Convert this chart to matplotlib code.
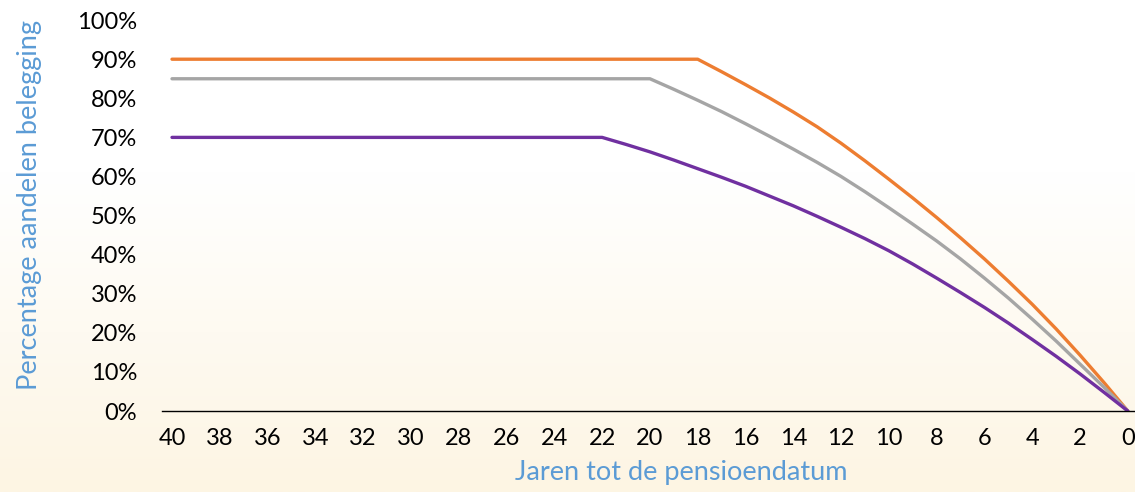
import numpy as np
import matplotlib
matplotlib.use("Agg")
import matplotlib.pyplot as plt
from matplotlib.colors import LinearSegmentedColormap

# years to retirement date (x) and share of equities in % (y)
years_orange = [40, 18, 17, 16, 15, 14, 13, 12, 11, 10, 9, 8, 7, 6, 5, 4, 3, 2, 1, 0]
pct_orange = [90, 90, 86.8, 83.5, 80.1, 76.5, 72.7, 68.5, 64.0, 59.3, 54.5,
              49.5, 44.3, 38.9, 33.2, 27.3, 21.0, 14.3, 7.3, 0]

years_gray = [40, 20, 19, 18, 17, 16, 15, 14, 13, 12, 11, 10, 9, 8, 7, 6, 5, 4, 3, 2, 1, 0]
pct_gray = [85, 85, 82.3, 79.5, 76.6, 73.5, 70.3, 67, 63.6, 60, 56.1, 52,
            47.8, 43.5, 38.9, 34, 28.9, 23.5, 17.9, 12, 6.1, 0]

years_purple = [40, 22, 21, 20, 19, 18, 17, 16, 15, 14, 13, 12, 11, 10, 9, 8, 7, 6, 5, 4, 3, 2, 1, 0]
pct_purple = [70, 70, 68.2, 66.3, 64.2, 62, 59.8, 57.5, 55, 52.5, 49.8, 47,
              44.1, 41, 37.6, 34, 30.3, 26.5, 22.5, 18.3, 14, 9.5, 4.8, 0]

x_ticks = list(range(40, -1, -2))
y_ticks = list(range(0, 101, 10))

plt.rcParams['font.family'] = ['Lato', 'DejaVu Sans']

fig = plt.figure(figsize=(11.35, 4.92), dpi=100)

# background: white at top fading to pale cream at the bottom
bg = fig.add_axes([0, 0, 1, 1], zorder=-1)
grad = np.linspace(0, 1, 256).reshape(-1, 1)
cmap = LinearSegmentedColormap.from_list(
    "bg", [(0, "#ffffff"), (0.35, "#ffffff"), (1, "#fdf5e3")])
bg.imshow(grad, aspect='auto', cmap=cmap, extent=[0, 1, 1, 0])
bg.axis('off')

ax = fig.add_axes([0.1427, 0.1646, 0.8573, 0.7945])
ax.set_facecolor('none')

ax.plot(years_orange, pct_orange, color='#ED7D31', lw=2.4, solid_capstyle='round')
ax.plot(years_gray, pct_gray, color='#A5A5A5', lw=2.4, solid_capstyle='round')
ax.plot(years_purple, pct_purple, color='#7030A0', lw=2.4, solid_capstyle='round')

ax.set_xlim(40.42, -0.3)
ax.set_ylim(0, 100)
ax.set_xticks(x_ticks)
ax.set_xticklabels([str(v) for v in x_ticks])
ax.set_yticks(y_ticks)
ax.set_yticklabels([f"{v}%" for v in y_ticks])
ax.tick_params(axis='both', length=0, labelsize=17, colors='black')
ax.tick_params(axis='y', pad=18)
ax.tick_params(axis='x', pad=12)

for side in ['top', 'right', 'left']:
    ax.spines[side].set_visible(False)
ax.spines['bottom'].set_color('black')
ax.spines['bottom'].set_linewidth(1.0)

ax.set_xlabel("Jaren tot de pensioendatum", fontsize=19.5, color='#5B9BD5')
ax.xaxis.set_label_coords(0.534, -0.125)
ax.set_ylabel("Percentage aandelen belegging", fontsize=19.5, color='#5B9BD5')
ax.yaxis.set_label_coords(-0.123, 0.527)

fig.savefig("out.png", dpi=100)
